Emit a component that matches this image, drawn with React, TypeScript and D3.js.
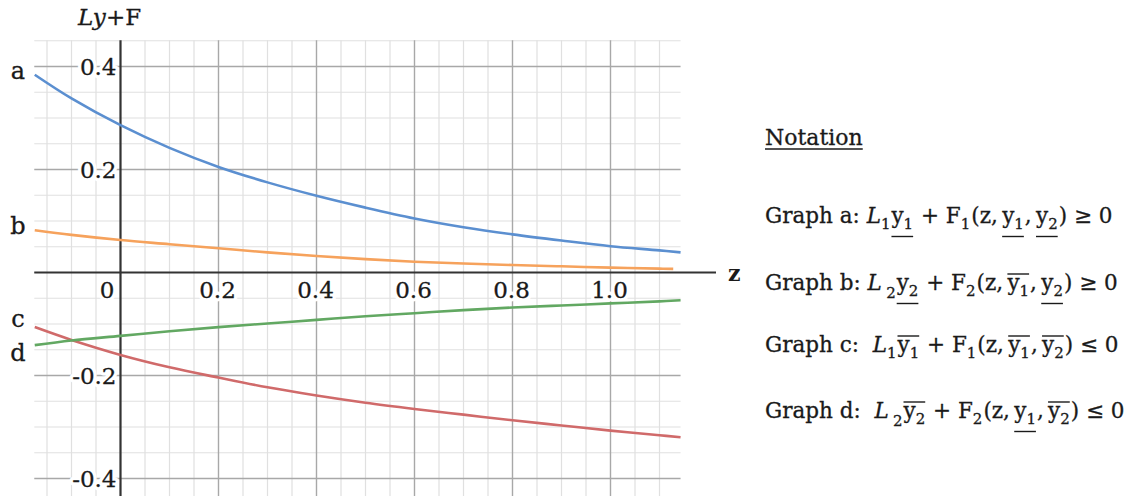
import React, { useEffect, useRef } from "react";
import * as d3 from "d3";

// ---- data ----
const zValues = [-0.175, -0.1, 0, 0.1, 0.2, 0.3, 0.4, 0.5, 0.6, 0.7, 0.8, 0.9, 1.0, 1.1, 1.143];
const zValuesB = [-0.175, -0.1, 0, 0.1, 0.2, 0.3, 0.4, 0.5, 0.6, 0.7, 0.8, 0.9, 1.0, 1.1, 1.128];
const seriesA = [0.384, 0.338, 0.286, 0.242, 0.205, 0.175, 0.149, 0.126, 0.105, 0.088, 0.074, 0.062, 0.051, 0.043, 0.039];
const seriesB = [0.082, 0.073, 0.063, 0.055, 0.047, 0.039, 0.032, 0.026, 0.021, 0.0175, 0.0145, 0.012, 0.0095, 0.0075, 0.007];
const seriesC = [-0.106, -0.131, -0.16, -0.184, -0.204, -0.223, -0.239, -0.253, -0.265, -0.276, -0.287, -0.297, -0.307, -0.316, -0.32];
const seriesD = [-0.141, -0.132, -0.123, -0.114, -0.106, -0.099, -0.092, -0.085, -0.079, -0.073, -0.068, -0.064, -0.06, -0.056, -0.054];
const curveLabels = ["a", "b", "c", "d"];
const xTicks = [0, 0.2, 0.4, 0.6, 0.8, 1.0];
const xTickLabels = ["0", "0.2", "0.4", "0.6", "0.8", "1.0"];
const yTicks = [0.4, 0.2, -0.2, -0.4];
const yTickLabels = ["0.4", "0.2", "-0.2", "-0.4"];
const yAxisTitle = ["Ly", "+F"];
const xAxisTitle = "z";
const notationTitle = "Notation";

type Tok = { t: string; i?: boolean; s?: boolean; g?: string; lo?: boolean };
const TS = "\u2009";
const formulaA: Tok[] = [
  { t: "Graph a: " }, { t: "L", i: true }, { t: "1", s: true },
  { t: "y", g: "u1" }, { t: "1", s: true, g: "u1" }, { t: " + F" }, { t: "1", s: true },
  { t: "(z," + TS }, { t: "y", g: "u2" }, { t: "1", s: true, g: "u2" }, { t: "," + TS },
  { t: "y", g: "u3" }, { t: "2", s: true, g: "u3" }, { t: ") ≥ 0" },
];
const formulaB: Tok[] = [
  { t: "Graph b: " }, { t: "L", i: true }, { t: TS }, { t: "2", s: true, lo: true },
  { t: "y", g: "u1" }, { t: "2", s: true, g: "u1" }, { t: " + F" }, { t: "2", s: true },
  { t: "(z," + TS }, { t: "y", g: "o2" }, { t: "1", s: true, g: "o2" }, { t: "," + TS },
  { t: "y", g: "u3" }, { t: "2", s: true, g: "u3" }, { t: ") ≥ 0" },
];
const formulaC: Tok[] = [
  { t: "Graph c:  " }, { t: "L", i: true }, { t: "1", s: true },
  { t: "y", g: "o1" }, { t: "1", s: true, g: "o1" }, { t: " + F" }, { t: "1", s: true },
  { t: "(z," + TS }, { t: "y", g: "o2" }, { t: "1", s: true, g: "o2" }, { t: "," + TS },
  { t: "y", g: "o3" }, { t: "2", s: true, g: "o3" }, { t: ") ≤ 0" },
];
const formulaD: Tok[] = [
  { t: "Graph d:  " }, { t: "L", i: true }, { t: TS }, { t: "2", s: true, lo: true },
  { t: "y", g: "o1" }, { t: "2", s: true, g: "o1" }, { t: " + F" }, { t: "2", s: true },
  { t: "(z," + TS }, { t: "y", g: "u2" }, { t: "1", s: true, g: "u2" }, { t: "," + TS },
  { t: "y", g: "o3" }, { t: "2", s: true, g: "o3" }, { t: ") ≤ 0" },
];
const formulas = [formulaA, formulaB, formulaC, formulaD];

const W = 1135;
const H = 496;
const FONT = "'DejaVu Serif', serif";
const INK = "#1a1a1a";

export default function App() {
  const notationRef = useRef<SVGGElement>(null);

  const x = d3.scaleLinear().domain([0, 1]).range([120.5, 610.5]);
  const y = d3.scaleLinear().domain([0, 0.2]).range([272.5, 169.5]);

  const gridX0 = x(-0.176);
  const gridX1 = x(1.143);
  const gridY0 = y(0.451);
  const gridY1 = H + 5;

  const minorX = d3.range(-3, 23).map((k) => k * 0.05).filter((v) => x(v) > gridX0 && x(v) < gridX1);
  const minorY = d3.range(-10, 10).map((k) => k * 0.05).filter((v) => y(v) > gridY0 - 1 && y(v) < gridY1);
  const isMajor = (v: number) => Math.abs(v / 0.2 - Math.round(v / 0.2)) < 1e-6 && Math.abs(v) > 1e-6;

  const line = d3
    .line<[number, number]>()
    .x((d) => x(d[0]))
    .y((d) => y(d[1]))
    .curve(d3.curveCatmullRom.alpha(0.5));

  const series = [
    { z: zValues, v: seriesA, color: "#5b8fd0" },
    { z: zValuesB, v: seriesB, color: "#f6a25c" },
    { z: zValues, v: seriesC, color: "#d06a6a" },
    { z: zValues, v: seriesD, color: "#62a862" },
  ];
  const labelDy = [4, 4, 0, 16];

  useEffect(() => {
    const g = d3.select(notationRef.current);
    g.selectAll("*").remove();
    const fs = 21.5;
    const baselines = [223, 290, 352, 418];
    const x0 = 765;
    const title = g.append("text")
      .attr("x", x0)
      .attr("y", 145)
      .attr("font-family", FONT)
      .attr("font-size", 22)
      .attr("fill", INK)
      .attr("stroke", INK)
      .attr("stroke-width", 0.3)
      .text(notationTitle);
    const nt = (title.node() as SVGTextElement).getComputedTextLength();
    g.append("line")
      .attr("x1", x0).attr("x2", x0 + nt)
      .attr("y1", 149).attr("y2", 149)
      .attr("stroke", INK).attr("stroke-width", 1.4);

    formulas.forEach((toks, li) => {
      const by = baselines[li];
      let cx = x0;
      const groups: Record<string, [number, number]> = {};
      toks.forEach((tk) => {
        const el = g
          .append("text")
          .attr("x", cx)
          .attr("y", by + (tk.s ? (tk.lo ? 8 : 6) : 0))
          .attr("font-family", FONT)
          .attr("font-size", tk.s ? 15 : fs)
          .attr("font-style", tk.i ? "italic" : "normal")
          .attr("fill", INK)
          .attr("stroke", INK)
          .attr("stroke-width", 0.3)
          .style("white-space", "pre")
          .text(tk.t);
        const w = (el.node() as SVGTextElement).getComputedTextLength();
        if (tk.g) {
          if (!groups[tk.g]) groups[tk.g] = [cx, cx + w];
          else groups[tk.g][1] = cx + w;
        }
        cx += w + (tk.s ? 1 : 0);
      });
      Object.keys(groups).forEach((k) => {
        const [a, b] = groups[k];
        const yy = k[0] === "u" ? by + 13.5 : by - 16;
        g.append("line")
          .attr("x1", a).attr("x2", b)
          .attr("y1", yy).attr("y2", yy)
          .attr("stroke", INK).attr("stroke-width", 1.4);
      });
    });
  }, []);

  const tickText = (halo: boolean) => (
    <g
      fontSize={23}
      fill={halo ? "#fff" : INK}
      stroke={halo ? "#fff" : INK}
      strokeWidth={halo ? 7 : 0.3}
      strokeLinejoin="round"
    >
      {xTicks.map((t, i) => (
        <text key={"xt" + t} x={t === 0 ? x(0) - 6 : x(t) - 1} y={y(0) + 25} textAnchor={t === 0 ? "end" : "middle"}>
          {xTickLabels[i]}
        </text>
      ))}
      {yTicks.map((t, i) => (
        <text key={"yt" + t} x={x(0) - 4} y={y(t) + 8.5} textAnchor="end">
          {yTickLabels[i]}
        </text>
      ))}
    </g>
  );

  return (
    <svg
      width={W}
      height={H}
      style={{ position: "absolute", left: 0, top: 0, background: "#fff" }}
      fontFamily={FONT}
    >
      <rect width={W} height={H} fill="#fff" />
      {/* minor grid */}
      <g>
        {minorX.filter((v) => !isMajor(v)).map((v) => (
          <line key={"mx" + v} x1={x(v)} x2={x(v)} y1={gridY0} y2={gridY1} stroke="#e0e0e0" strokeWidth={1.2} />
        ))}
        {minorY.filter((v) => !isMajor(v)).map((v) => (
          <line key={"my" + v} x1={gridX0} x2={gridX1} y1={y(v)} y2={y(v)} stroke="#e0e0e0" strokeWidth={1.2} />
        ))}
      </g>
      {/* major grid */}
      <g>
        {minorX.filter(isMajor).map((v) => (
          <line key={"Mx" + v} x1={x(v)} x2={x(v)} y1={gridY0} y2={gridY1} stroke="#a8a8a8" strokeWidth={1.4} />
        ))}
        {minorY.filter(isMajor).map((v) => (
          <line key={"My" + v} x1={gridX0} x2={gridX1} y1={y(v)} y2={y(v)} stroke="#a8a8a8" strokeWidth={1.4} />
        ))}
      </g>
      {/* axes */}
      <line x1={gridX0} x2={716} y1={y(0)} y2={y(0)} stroke="#333" strokeWidth={2.2} />
      <line x1={x(0)} x2={x(0)} y1={gridY0} y2={gridY1} stroke="#333" strokeWidth={2.2} />

      {/* tick labels */}
      {tickText(true)}
      {tickText(false)}

      {/* curves */}
      {series.map((s, i) => (
        <path
          key={"s" + i}
          d={line(s.z.map((z, k) => [z, s.v[k]] as [number, number])) || ""}
          fill="none"
          stroke={s.color}
          strokeWidth={2.6}
        />
      ))}

      {/* curve labels */}
      {series.map((s, i) => (
        <text key={"cl" + i} x={18} y={y(s.v[0]) + labelDy[i]} fontSize={24} fill={INK} stroke={INK} strokeWidth={0.3} textAnchor="middle">
          {curveLabels[i]}
        </text>
      ))}

      {/* axis titles */}
      <text x={78} y={25} fontSize={23} fill={INK} stroke={INK} strokeWidth={0.3}>
        <tspan fontStyle="italic">{yAxisTitle[0]}</tspan>
        <tspan>{yAxisTitle[1]}</tspan>
      </text>
      <text x={728} y={281} fontSize={22} fontWeight="bold" fill={INK}>
        {xAxisTitle}
      </text>

      <g ref={notationRef} />
    </svg>
  );
}
